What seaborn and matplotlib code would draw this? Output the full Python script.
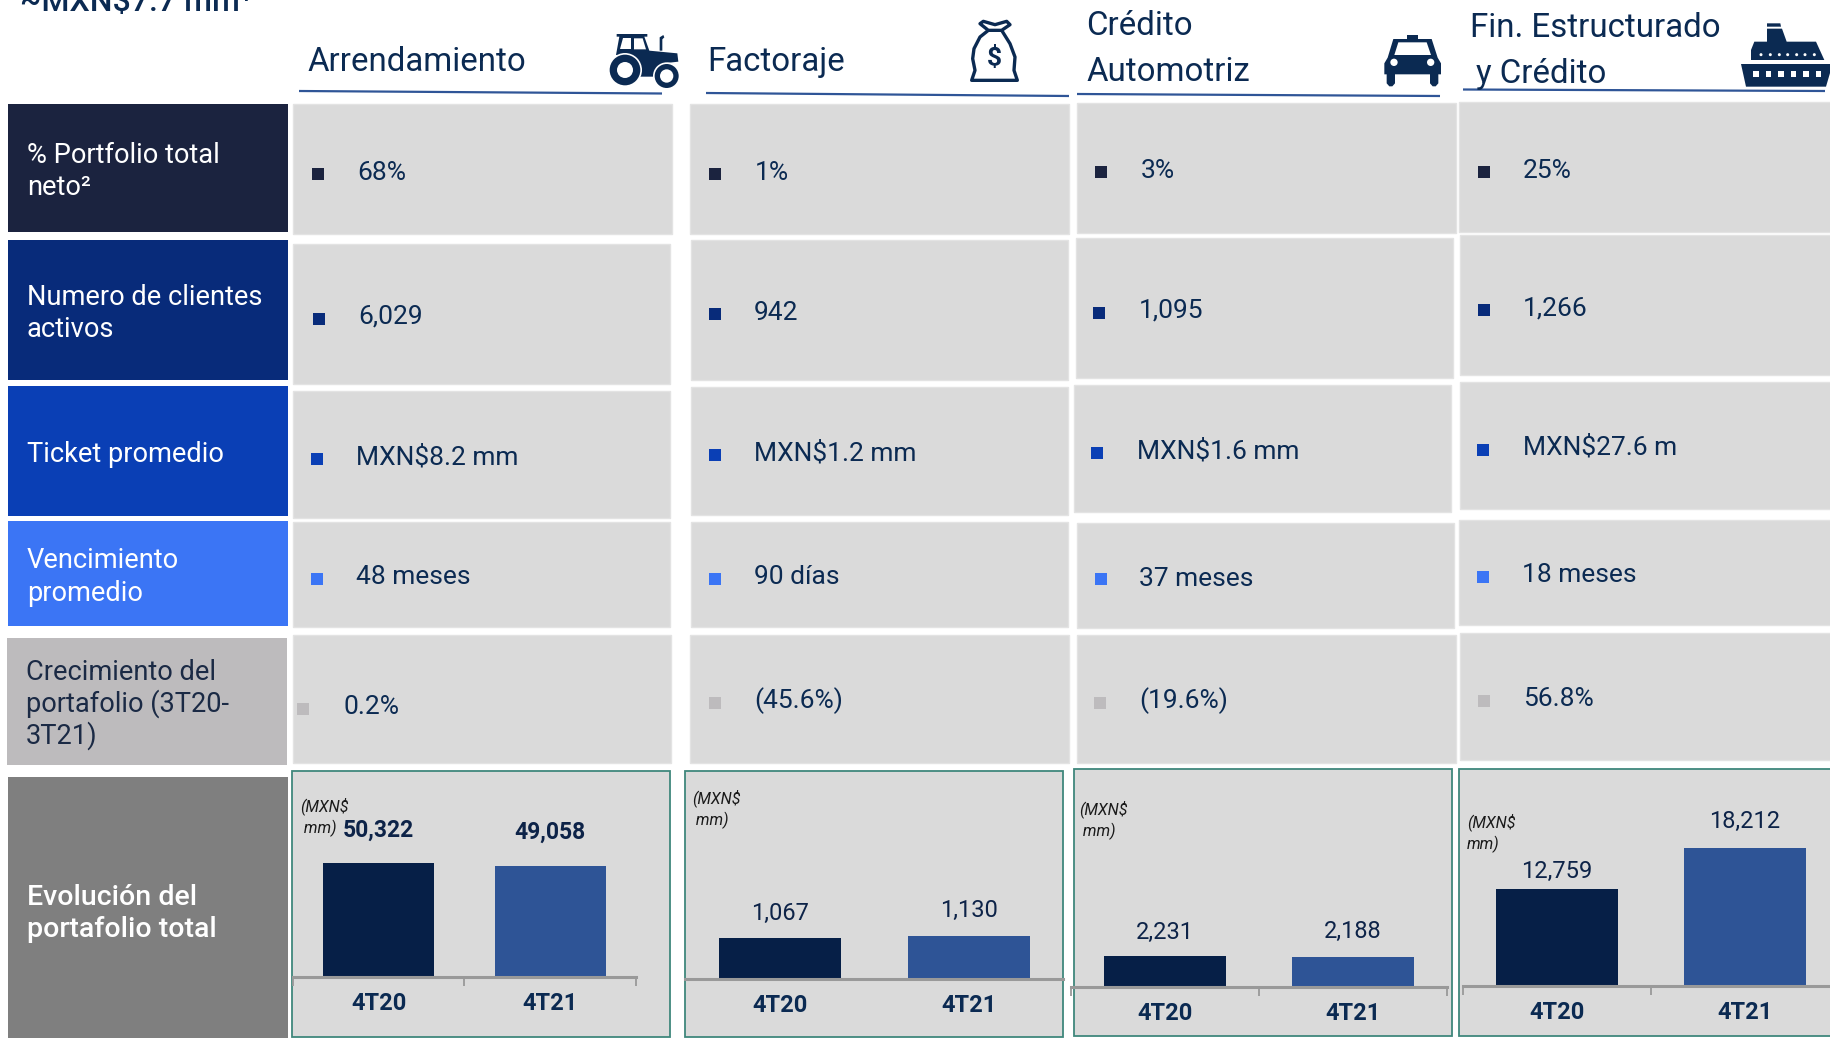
import matplotlib
matplotlib.use('Agg')
import matplotlib.pyplot as plt
from matplotlib.patches import Rectangle, Polygon, Circle
import pandas as pd
import seaborn as sns

# data
headline = '~MXN$7.7 mm¹'
row_labels = [['% Portfolio total', 'neto²'],
              ['Numero de clientes', 'activos'],
              ['Ticket promedio'],
              ['Vencimiento', 'promedio'],
              ['Crecimiento del', 'portafolio (3T20-', '3T21)'],
              ['Evolución del', 'portafolio total']]
portfolio_pct = ['68%', '1%', '3%', '25%']
clientes = ['6,029', '942', '1,095', '1,266']
ticket = ['MXN$8.2 mm', 'MXN$1.2 mm', 'MXN$1.6 mm', 'MXN$27.6 m']
vencimiento = ['48 meses', '90 días', '37 meses', '18 meses']
crecimiento = ['0.2%', '(45.6%)', '(19.6%)', '56.8%']
periods = ['4T20', '4T21']
arrendamiento = [50322, 49058]
factoraje = [1067, 1130]
automotriz = [2231, 2188]
estructurado = [12759, 18212]
units = ['(MXN$\n mm)', '(MXN$\n mm)', '(MXN$\n mm)', '(MXN$\nmm)']

# colours
navy = '#0B2A52'
cell_grey = '#DADADA'
row_colors = ['#1B233F', '#082B7A', '#0A3FB5', '#3B75F5', '#BDBBBD', '#7F7F7F']
bar_colors = ['#061F47', '#2E5496']
teal = '#3F877C'
axis_grey = '#999999'
line_blue = '#2F5597'

# layout, pixels of the 1831x1038 slide: (x0, y0, x1, y1)
row_boxes = [(8, 104, 288, 232), (8, 240, 288, 380), (8, 386, 288, 516),
             (8, 521, 288, 626), (7, 638, 287, 765), (8, 777, 288, 1038)]
cell_boxes = [
    [(293, 104, 672, 234), (293, 244, 670, 384), (293, 391, 670, 518), (293, 522, 670, 627), (293, 635, 671, 763)],
    [(690, 104, 1069, 234), (691, 240, 1068, 380), (691, 387, 1068, 515), (691, 522, 1068, 627), (690, 635, 1069, 763)],
    [(1077, 103, 1456, 233), (1076, 238, 1453, 378), (1074, 385, 1451, 512), (1077, 523, 1454, 628), (1077, 635, 1456, 763)],
    [(1459, 102, 1831, 232), (1460, 235, 1831, 375), (1460, 382, 1831, 509), (1459, 520, 1831, 625), (1460, 633, 1831, 760)],
]
panel_boxes = [(292, 771, 670, 1037), (685, 771, 1063, 1037), (1074, 769, 1452, 1036), (1459, 769, 1835, 1036)]
# (bullet x, bullet centre y, text x, text centre y)
cell_text = [
    [(312, 174, 357, 170), (313, 319, 358, 314), (311, 459, 356, 455), (311, 579, 356, 574), (297, 709, 344, 705)],
    [(709, 174, 755, 170), (709, 314, 754, 310), (709, 455, 754, 451), (709, 579, 754, 574), (709, 703, 754, 699)],
    [(1095, 172, 1141, 168), (1093, 313, 1139, 308), (1091, 453, 1137, 449), (1095, 579, 1139, 576), (1094, 703, 1139, 699)],
    [(1478, 172, 1523, 168), (1478, 310, 1523, 306), (1477, 450, 1523, 445), (1477, 577, 1522, 573), (1478, 701, 1523, 697)],
]
label_y = [[153, 185], [295, 327], [452], [558, 591], [670, 702, 734], [895, 927]]
header_lines = [(299, 91, 662, 93.5), (706, 93, 1069, 96), (1077, 94, 1440, 96), (1463, 89.5, 1825, 91)]
headers = [('Arrendamiento', 307, 59), ('Factoraje', 707, 59), ('Crédito', 1086, 23), ('Automotriz', 1086, 69),
           ('Fin. Estructurado', 1470, 25), ('y Crédito', 1476, 71)]
# bar axes: x at -0.5, x at 1.5, top, baseline, ymax
bar_axes = [(293, 636, 790, 977, 82500), (685.5, 1063.5, 790, 979, 4920),
            (1071, 1447, 790, 987, 14200), (1463, 1839, 790, 986, 25800)]
value_offsets = [[33, 34], [25, 25], [24, 25], [18, 26]]
unit_pos = [(300, 817), (692, 809), (1079, 820), (1467, 833)]
tick_pads = [10.5, 10.6, 11, 10.6]

W, H = 1831, 1038
sns.set_theme(style='white')
plt.rcParams['font.family'] = ['Roboto', 'DejaVu Sans']

fig = plt.figure(figsize=(W / 100, H / 100), dpi=100)
bg = fig.add_axes([0, 0, 1, 1])
bg.set_xlim(0, W)
bg.set_ylim(H, 0)
bg.axis('off')


def put(x, y, s, size, color=navy, weight='normal', style='normal'):
    # y is the optical centre of the line, turned into a baseline
    bg.text(x, y + 0.36 * size / 0.72, s, fontsize=size, color=color, weight=weight,
            style=style, ha='left', va='baseline')


def box(b, **kw):
    bg.add_patch(Rectangle((b[0], b[1]), b[2] - b[0], b[3] - b[1], **kw))


def poly(pts, ox, oy, color=navy, **kw):
    bg.add_patch(Polygon([(ox + p[0] / 3, oy + p[1] / 3) for p in pts], closed=True,
                         facecolor=color, edgecolor='none', **kw))


def disc(cx, cy, r, ox, oy, color=navy):
    bg.add_patch(Circle((ox + cx / 3, oy + cy / 3), r / 3, facecolor=color, edgecolor='none'))


# top left headline, cut by the slide edge
bg.text(20, 11, headline, fontsize=23, color=navy, weight='medium', ha='left', va='baseline')

# headers
for name, x, y in headers:
    put(x, y, name, 23.8)
for x0, y0, x1, y1 in header_lines:
    bg.plot([x0, x1], [y0, y1], color=line_blue, lw=1.6, solid_capstyle='butt')

# left column
for i, b in enumerate(row_boxes):
    box(b, facecolor=row_colors[i], edgecolor='none')
    txt_color = '#1B2A45' if i == 4 else 'white'
    for line, y in zip(row_labels[i], label_y[i]):
        if i == 5:
            put(b[0] + 19, y, line, 20.5, color=txt_color, weight='medium')
        else:
            put(b[0] + 19, y, line, 19.6, color=txt_color)

# value cells
rows = [portfolio_pct, clientes, ticket, vencimiento, crecimiento]
for c in range(4):
    for r in range(5):
        box(cell_boxes[c][r], facecolor=cell_grey, edgecolor='#E3E3E3', lw=1)
        bx, by, tx, ty = cell_text[c][r]
        box((bx, by - 6, bx + 12, by + 6), facecolor=row_colors[r], edgecolor='none')
        put(tx, ty, rows[r][c], 19)
    box(panel_boxes[c], facecolor=cell_grey, edgecolor=teal, lw=1.3)
    bg.text(unit_pos[c][0], unit_pos[c][1], units[c], fontsize=11.5, style='italic', color='#1A1A1A',
            ha='left', va='center', linespacing=1.35)

# bar panels
series = [arrendamiento, factoraje, automotriz, estructurado]
for c, values in enumerate(series):
    x0, x1, top, base, ymax = bar_axes[c]
    ax = fig.add_axes([x0 / W, 1 - base / H, (x1 - x0) / W, (base - top) / H])
    df = pd.DataFrame({'periodo': periods, 'valor': values})
    sns.barplot(data=df, x='periodo', y='valor', hue='periodo', palette=bar_colors, width=0.645,
                saturation=1, legend=False, linewidth=0, ax=ax)
    ax.patch.set_visible(False)
    ax.set_xlim(-0.5, 1.5)
    ax.set_ylim(0, ymax)
    ax.set_xlabel('')
    ax.set_ylabel('')
    ax.set_yticks([])
    sns.despine(ax=ax, left=True)
    ax.spines['bottom'].set_color(axis_grey)
    ax.spines['bottom'].set_linewidth(2.2)
    ax.set_xticks([-0.5, 0.5, 1.5], minor=True)
    ax.tick_params(axis='x', which='minor', bottom=(c != 1), length=6.5, width=1.3, color=axis_grey)
    ax.tick_params(axis='x', which='major', bottom=False, length=0, pad=tick_pads[c], labelsize=17, labelcolor=navy)
    for lab in ax.get_xticklabels():
        lab.set_fontweight('bold')
    for i, v in enumerate(values):
        ax.annotate(f'{v:,}', (i, v), xytext=(0, value_offsets[c][i]), textcoords='offset pixels',
                    ha='center', va='center', fontsize=17 if c else 16.5, color='#0D2348',
                    weight='bold' if c == 0 else 'normal')

# tractor
ox, oy = 600, 20
poly([(50, 42), (142, 42), (142, 50), (133, 50), (148, 92), (232, 100), (235, 125), (190, 130), (165, 150),
      (160, 170), (115, 170), (105, 120), (80, 105), (48, 105), (58, 50), (50, 50)], ox, oy)
poly([(68, 55), (92, 55), (92, 88), (61, 88)], ox, oy, color='white')
poly([(102, 55), (128, 55), (138, 88), (102, 88)], ox, oy, color='white')
poly([(179, 92), (179, 52), (190, 45), (193, 52), (187, 58), (187, 92)], ox, oy)
for cx, cy, r0, r1 in [(75, 150, 46, 24), (200, 168, 36, 20)]:
    disc(cx, cy, r0 + 5, ox, oy, color='white')
    disc(cx, cy, r0, ox, oy)
    disc(cx, cy, r1, ox, oy, color='white')

# money bag
ox, oy = 960, 12
bag = [(85, 55), (60, 75), (42, 110), (38, 140), (45, 175), (35, 205), (172, 205), (162, 175), (165, 135),
       (150, 95), (125, 55)]
bg.add_patch(Polygon([(ox + x / 3, oy + y / 3) for x, y in bag], closed=True, facecolor='white', edgecolor=navy,
                     lw=2.4, joinstyle='round'))
tie = [(85, 55), (60, 35), (70, 28), (105, 38), (140, 28), (150, 38), (125, 55)]
bg.add_patch(Polygon([(ox + x / 3, oy + y / 3) for x, y in tie], closed=True, facecolor='white', edgecolor=navy,
                     lw=2.4, joinstyle='round'))
bg.text(ox + 34, oy + 46, '$', fontsize=19, weight='bold', color=navy, ha='center', va='center')

# taxi
ox, oy = 1375, 25
poly([(95, 30), (130, 30), (130, 42), (95, 42)], ox, oy)
poly([(55, 42), (170, 42), (188, 98), (198, 115), (198, 148), (28, 148), (28, 115), (38, 98)], ox, oy)
poly([(35, 145), (60, 145), (60, 175), (52, 184), (43, 184), (35, 175)], ox, oy)
poly([(165, 145), (190, 145), (190, 175), (182, 184), (173, 184), (165, 175)], ox, oy)
poly([(70, 52), (155, 52), (168, 90), (58, 90)], ox, oy, color='white')
disc(57, 112, 11, ox, oy, color='white')
disc(167, 112, 11, ox, oy, color='white')

# ship
ox, oy = 1731, 15
poly([(108, 25), (148, 25), (150, 35), (108, 35)], ox, oy)
poly([(108, 41), (153, 41), (167, 80), (255, 80), (280, 135), (60, 135), (60, 105), (70, 80), (108, 80)], ox, oy)
poly([(30, 147), (305, 147), (285, 215), (45, 215)], ox, oy)
for x in [90, 118, 145, 170, 197, 222, 250]:
    disc(x, 119, 4.5, ox, oy, color='white')
for x in [75, 112, 150, 188, 225, 262]:
    poly([(x - 8, 169), (x + 8, 169), (x + 8, 186), (x - 8, 186)], ox, oy, color='white')

fig.savefig('out.png', dpi=100)
